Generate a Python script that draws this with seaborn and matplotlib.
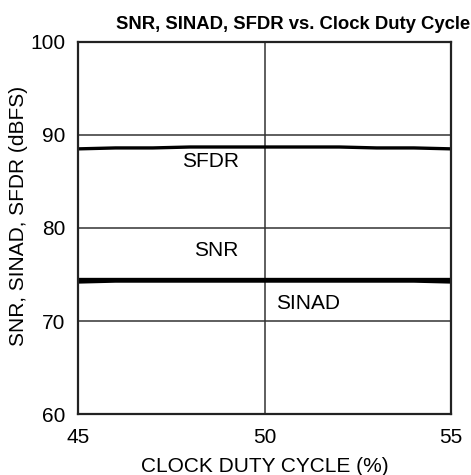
import numpy as np
import pandas as pd
import matplotlib
matplotlib.use("Agg")
import matplotlib.pyplot as plt
import seaborn as sns

# Data
duty_cycle = [45, 46, 47, 48, 49, 50, 51, 52, 53, 54, 55]
sfdr = [88.5, 88.6, 88.6, 88.7, 88.7, 88.7, 88.7, 88.7, 88.6, 88.6, 88.5]
snr = [74.5, 74.5, 74.5, 74.5, 74.5, 74.5, 74.5, 74.5, 74.5, 74.5, 74.5]
sinad = [74.2, 74.3, 74.3, 74.3, 74.3, 74.3, 74.3, 74.3, 74.3, 74.3, 74.2]

x_ticks = [45, 50, 55]
y_ticks = [60, 70, 80, 90, 100]

sns.set_theme(style="white")
plt.rcParams['font.family'] = ['Liberation Sans', 'DejaVu Sans']

df = pd.DataFrame({'duty': duty_cycle, 'SFDR': sfdr, 'SNR': snr, 'SINAD': sinad})
long = df.melt(id_vars='duty', var_name='metric', value_name='dbfs')

fig, ax = plt.subplots(figsize=(4.71, 4.75), dpi=100)
fig.subplots_adjust(left=0.166, right=0.958, top=0.912, bottom=0.128)

sns.lineplot(data=long, x='duty', y='dbfs', hue='metric',
             palette={'SFDR': 'black', 'SNR': 'black', 'SINAD': 'black'},
             linewidth=2.4, legend=False, ax=ax)

ax.set_xlim(45, 55)
ax.set_ylim(60, 100)
ax.set_xticks(x_ticks)
ax.set_yticks(y_ticks)
ax.grid(True, color='#333333', linewidth=1.1)
for s in ax.spines.values():
    s.set_color('#222222')
    s.set_linewidth(1.6)
ax.tick_params(axis='both', labelsize=15, colors='black', length=0)
ax.tick_params(axis='x', pad=10)
ax.tick_params(axis='y', pad=9)

ax.set_xlabel('CLOCK DUTY CYCLE (%)', fontsize=15, color='black', labelpad=7)
ax.set_ylabel('SNR, SINAD, SFDR (dBFS)', fontsize=15, color='black')
ax.yaxis.set_label_coords(-0.134, 0.532)
ax.set_title('SNR, SINAD, SFDR vs. Clock Duty Cycle', fontsize=13.3,
             fontweight='bold', color='black', pad=9, x=0.576)

ax.text(48.55, 87.1, 'SFDR', fontsize=15, ha='center', va='center', color='black')
ax.text(48.7, 77.6, 'SNR', fontsize=15, ha='center', va='center', color='black')
ax.text(51.15, 71.9, 'SINAD', fontsize=15, ha='center', va='center', color='black')

fig.savefig('out.png', dpi=100)
